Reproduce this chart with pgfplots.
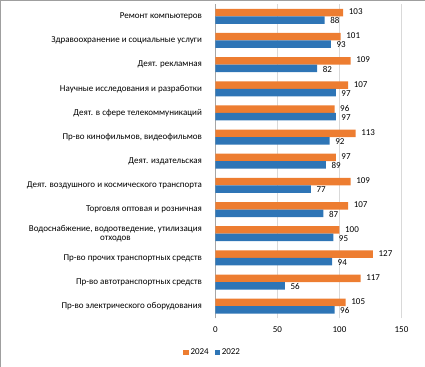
\documentclass[border=0pt]{standalone}
\usepackage{pgfplots}
\pgfplotsset{compat=1.18}
\usepackage{pgfplotstable}
\usepackage{fontspec}
\setmainfont{Carlito}
\definecolor{orng}{HTML}{ED7D31}
\definecolor{blu}{HTML}{2E75B6}
\pgfplotstableread{
y a b
1 105 96
2 117 56
3 127 94
4 100 95
5 107 87
6 109 77
7 97 89
8 113 92
9 96 97
10 107 97
11 109 82
12 101 93
13 103 88
}\data
\begin{document}
\begin{tikzpicture}
\draw[gray!75] (-215.2pt,-48.5pt) rectangle (209.3pt,318pt);
\begin{axis}[
  at={(0,0)}, anchor=south west,
  scale only axis, width=186pt, height=314pt,
  xbar, bar width=7.5pt,
  xmin=0, xmax=150, ymin=0.5, ymax=13.5,
  xtick={0,50,100,150},
  ytick={1,...,13},
  yticklabels={Пр-во электрического оборудования,Пр-во автотранспортных средств,Пр-во прочих транспортных средств,{Водоснабжение, водоотведение, утилизация\\отходов},Торговля оптовая и розничная,Деят. воздушного и космического транспорта,Деят. издательская,{Пр-во кинофильмов, видеофильмов},Деят. в сфере телекоммуникаций,Научные исследования и разработки,Деят. рекламная,Здравоохранение и социальные услуги,Ремонт компьютеров},
  font=\fontsize{9}{10}\selectfont,
  /pgf/number format/assume math mode=true,
  y tick label style={align=center, xshift=-10pt, font=\fontsize{9}{9.5}\selectfont},
  x tick label style={yshift=-5pt},
  major tick length=0pt,
  axis x line*=bottom, axis y line*=left,
  x axis line style={draw=none},
  y axis line style={draw=black!35},
  xmajorgrids, grid style={draw=black!15},
  nodes near coords,
  nodes near coords style={anchor=west, xshift=4pt, inner sep=1.5pt, font=\fontsize{9}{10}\selectfont, black},
  legend style={at={(-0.0145,-0.11)}, anchor=center, legend columns=-1, draw=none, font=\fontsize{9}{10}\selectfont, /tikz/every even column/.append style={column sep=4pt}},
  legend image code/.code={\fill[#1] (0cm,-2.5pt) rectangle (5pt,2.5pt);},
]
\addplot[fill=orng, draw=none, bar shift=3.75pt, every node near coord/.append style={yshift=0.8pt}] table[x=a, y=y] {\data};
\addplot[fill=blu, draw=none, bar shift=-3.75pt, every node near coord/.append style={yshift=-0.8pt}] table[x=b, y=y] {\data};
\legend{2024,2022}
\end{axis}
\end{tikzpicture}
\end{document}
